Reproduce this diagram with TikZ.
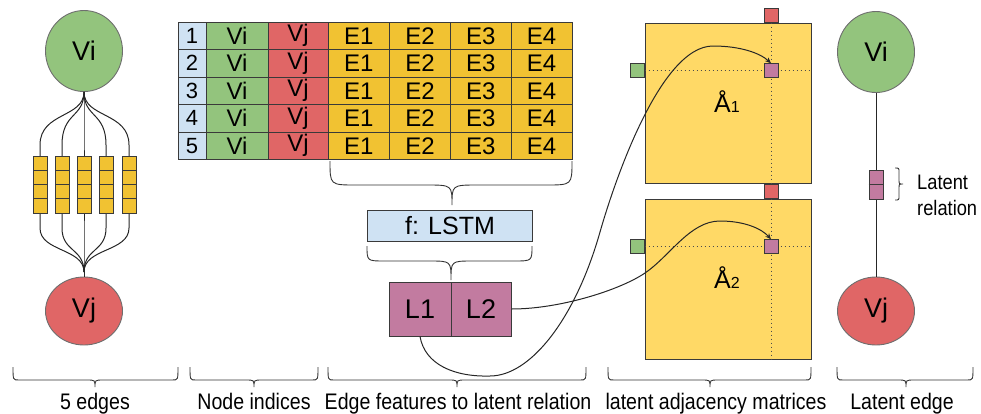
\documentclass[tikz,border=0pt]{standalone}
\usepackage{fontspec}
\setmainfont{Liberation Sans}
\usetikzlibrary{arrows.meta,shapes.geometric}

\definecolor{cblue}{HTML}{CFE2F3}
\definecolor{cgreen}{HTML}{93C47D}
\definecolor{cred}{HTML}{E06666}
\definecolor{cyellow}{HTML}{F1C232}
\definecolor{cpink}{HTML}{C27BA0}
\definecolor{cmat}{HTML}{FFD966}
\definecolor{cborder}{HTML}{3A3A3A}
\definecolor{cnode}{HTML}{6E6E6E}

% curly brace opening downwards: x1, x2, tip x, top y, bar y, tip y, end radius, tip radius
\newcommand\drawbrace[8]{%
  \draw[bracestyle] (#1,#4) .. controls (#1,#5) and (#1,#5) .. ({#1+#7},#5)
    -- ({#3-#8},#5) .. controls (#3,#5) and (#3,#5) .. (#3,#6)
    .. controls (#3,#5) and (#3,#5) .. ({#3+#8},#5)
    -- ({#2-#7},#5) .. controls (#2,#5) and (#2,#5) .. (#2,#4);}
% narrow caption text
\newcommand\narrowtext[1]{\scalebox{0.87}[1]{#1}}

\tikzset{
  fsz/.style={font=\fontsize{#1}{#1}\selectfont},
  vertex/.style={ellipse, draw=cnode, line width=0.9pt, inner sep=0pt, fsz=27},
  tcell/.style={rectangle, draw=cborder, line width=1pt, inner sep=0pt,
    minimum height=27.5pt, fsz=24},
  bar/.style={rectangle, draw=cborder, line width=1pt, inner sep=0pt, fill=cyellow,
    minimum width=14pt, minimum height=57pt},
  wire/.style={draw=black!85, line width=1pt},
  bracestyle/.style={draw=black!80, line width=0.9pt},
  sq/.style={rectangle, draw=cborder, line width=0.9pt, inner sep=0pt,
    minimum width=14pt, minimum height=13.5pt},
  matrixbox/.style={rectangle, draw=cborder, line width=1pt, fill=cmat, inner sep=0pt,
    minimum width=166pt, minimum height=160pt},
  dotline/.style={draw=black!70, line width=0.9pt, dash pattern=on 1.6pt off 2.4pt},
  link/.style={draw=black!85, line width=1pt, -{Stealth[length=6pt,width=5pt]}},
  lab/.style={fsz=22.5, anchor=base, inner sep=0pt},
}

\begin{document}
\begin{tikzpicture}[x=1pt,y=-1pt]
\useasboundingbox (0,0) rectangle (981,413);

% ---------- five parallel edges between Vi and Vj ----------
\node[vertex, fill=cgreen, minimum width=77pt, minimum height=81pt] (vi) at (84,51) {Vi};
\node[vertex, fill=cred, minimum width=77pt, minimum height=68pt] (vj) at (84,311) {Vj};
\coordinate (vjtop) at (84,272);
\foreach \x [count=\k] in {40,62,84,106,129} {
  \draw[wire] (vi.south) .. controls (84,118) and (\x,112) .. (\x,145) -- (\x,156);
  \draw[wire] (\x,213) -- (\x,228) .. controls (\x,252) and (84,248) .. (vjtop);
  \node[bar] (bar\k) at (\x,184.5) {};
  \foreach \j in {1,2,3}
    \draw[draw=cborder, line width=1pt] (\x-7,{156+14.25*\j}) -- (\x+7,{156+14.25*\j});
}
\draw[wire] (vjtop) -- (vj.north);

% ---------- edge table ----------
\foreach \r in {1,...,5} {
  \pgfmathsetmacro\yc{22+27.5*(\r-0.5)}
  \node[tcell, fill=cblue, minimum width=28pt, fsz=22] (idx\r) at (192,\yc) {\r};
  \node[tcell, fill=cgreen, minimum width=62pt] (vi\r) at (237,\yc) {Vi};
  \node[tcell, fill=cred, minimum width=60pt] (vj\r) at (298,\yc) {Vj};
  \node[tcell, fill=cyellow, minimum width=61.5pt] (ea\r) at (358.75,\yc) {E1};
  \node[tcell, fill=cyellow, minimum width=61pt] (eb\r) at (420,\yc) {E2};
  \node[tcell, fill=cyellow, minimum width=60.5pt] (ec\r) at (480.75,\yc) {E3};
  \node[tcell, fill=cyellow, minimum width=61pt] (ed\r) at (541.5,\yc) {E4};
}

% ---------- LSTM and latent relation ----------
\drawbrace{330}{572}{452}{161}{185}{205}{26}{26}
\node[tcell, fill=cblue, minimum width=165pt, minimum height=31pt, fsz=25] (lstm) at (450,225.5) {f: LSTM};
\drawbrace{367}{532}{451}{246}{261}{280}{18}{22}
\node[tcell, fill=cpink, minimum width=62pt, minimum height=54pt, fsz=27] (l1) at (420,309) {L1};
\node[tcell, fill=cpink, minimum width=60pt, minimum height=54pt, fsz=27] (l2) at (481,309) {L2};

% ---------- latent adjacency matrices ----------
\foreach \m/\yc in {1/103, 2/279} {
  \node[matrixbox] (mat\m) at (728,\yc) {};
  \node[sq, fill=cpink] (cell\m) at (771,\yc-32.5) {};
  \draw[dotline] (mat\m.west |- cell\m) -- (mat\m.east |- cell\m);
  \draw[dotline] (cell\m |- mat\m.north) -- (cell\m |- mat\m.south);
  \node[sq, fill=cpink] at (cell\m) {};
  \node[sq, fill=cred, anchor=south] (col\m) at (cell\m |- mat\m.north) {};
  \node[sq, fill=cgreen, anchor=east] (row\m) at (mat\m.west |- cell\m) {};
  \node[fsz=25, inner sep=0pt, anchor=base] (name\m) at (727,\yc+9) {Å{\fontsize{16}{16}\selectfont\m}};
}

% relation channels feeding the matrices
\draw[link] (l1.south) .. controls (425,365) and (455,377) .. (490,376)
  .. controls (530,376) and (575,320) .. (600,232)
  .. controls (614,183) and (660,46) .. (713,46)
  .. controls (740,46) and (760,53) .. (cell1.north);
\draw[link] (l2.east) .. controls (560,309) and (620,290) .. (645,273)
  .. controls (670,256) and (690,221) .. (720,221)
  .. controls (745,221) and (762,229) .. (cell2.north);

% ---------- single latent edge ----------
\node[vertex, fill=cgreen, minimum width=77pt, minimum height=81pt] (vi2) at (876,52) {Vi};
\node[vertex, fill=cred, minimum width=77pt, minimum height=68pt] (vj2) at (876,311) {Vj};
\node[rectangle, draw=cborder, line width=1pt, fill=cpink, inner sep=0pt,
  minimum width=14pt, minimum height=29pt] (rel) at (876,184.5) {};
\draw[draw=cborder, line width=1pt] (rel.west) -- (rel.east);
\draw[wire] (vi2.south) -- (rel.north);
\draw[wire] (rel.south) -- (vj2.north);
\draw[bracestyle] (895,168) .. controls (899,168) and (899,168) .. (899,172)
  -- (899,180) .. controls (899,184) and (899,184) .. (903,184)
  .. controls (899,184) and (899,184) .. (899,188)
  -- (899,196) .. controls (899,200) and (899,200) .. (895,200);
\node[fsz=21, anchor=base west, inner sep=0pt] (rlab1) at (917,189) {\narrowtext{Latent}};
\node[fsz=21, anchor=base west, inner sep=0pt] (rlab2) at (917,215) {\narrowtext{relation}};

% ---------- section labels ----------
\drawbrace{13}{178}{95}{367}{380}{387}{6}{8}
\drawbrace{190}{318}{254}{367}{380}{387}{6}{8}
\drawbrace{328}{586}{457}{367}{380}{387}{6}{8}
\drawbrace{608}{811}{710}{367}{380}{387}{6}{8}
\drawbrace{837}{973}{906}{367}{380}{387}{6}{8}
\node[lab] (s1) at (95,409) {\narrowtext{5 edges}};
\node[lab] (s2) at (254,409) {\narrowtext{Node indices}};
\node[lab] (s3) at (458,409) {\narrowtext{Edge features to latent relation}};
\node[lab] (s4) at (716,409) {\narrowtext{latent adjacency matrices}};
\node[lab] (s5) at (902,409) {\narrowtext{Latent edge}};
\end{tikzpicture}
\end{document}
